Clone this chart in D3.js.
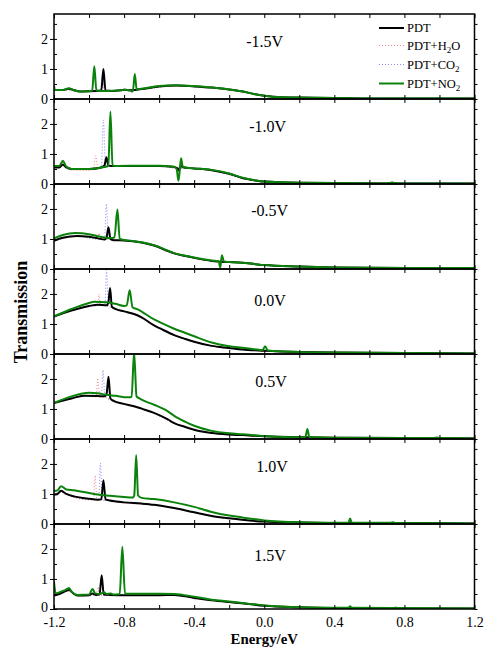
<!DOCTYPE html>
<html>
<head>
<meta charset="utf-8">
<script src="https://cdn.jsdelivr.net/npm/d3@7"></script>
<style>
body { margin: 0; background: #fff; }
svg { display: block; font-family: "Liberation Serif", "Times New Roman", serif; }
</style>
</head>
<body>
<svg width="484" height="647"></svg>
<script>

// tick labels / panel names
let energyTicks = [-1.2, -0.8, -0.4, 0.0, 0.4, 0.8, 1.2];
let transTicks = [0, 1, 2];
let biasLabels = ["-1.5V", "-1.0V", "-0.5V", "0.0V", "0.5V", "1.0V", "1.5V"];
let seriesNames = ["PDT", "PDT+H2O", "PDT+CO2", "PDT+NO2"];

// ---- -1.5V ----
let pdtM15 = [[-1.2,0.3],[-1.15,0.3],[-1.115,0.34],[-1.09,0.3],[-1.05,0.25],[-1.0,0.26],[-0.96,0.27],[-0.93,0.28],[-0.918,1.0],[-0.906,0.28],[-0.87,0.27],[-0.82,0.29],[-0.796,0.31],[-0.77,0.29],[-0.74,0.3],[-0.7,0.33],[-0.6,0.42],[-0.5,0.45],[-0.4,0.42],[-0.3,0.38],[-0.2,0.32],[-0.13,0.26],[-0.06,0.17],[0,0.11],[0.1,0.06],[0.2,0.05],[0.4,0.03],[0.6,0.02],[1.2,0.02]];
let h2oM15 = [[-1.2,0.28],[-1.1,0.3],[-1.0,0.24],[-0.93,0.27],[-0.92,0.6],[-0.91,0.27],[-0.8,0.28],[-0.7,0.32],[-0.5,0.44],[-0.3,0.37],[-0.13,0.25],[0,0.1],[0.2,0.05],[0.6,0.02],[1.2,0.02]];
let co2M15 = [[-1.2,0.29],[-1.1,0.31],[-1.0,0.25],[-0.935,0.27],[-0.925,0.8],[-0.915,0.27],[-0.8,0.29],[-0.7,0.33],[-0.5,0.45],[-0.3,0.38],[-0.13,0.26],[0,0.11],[0.2,0.05],[0.6,0.02],[1.2,0.02]];
let no2M15 = [[-1.2,0.45],[-1.195,0.3],[-1.15,0.3],[-1.115,0.36],[-1.09,0.3],[-1.05,0.25],[-1.0,0.26],[-0.982,0.28],[-0.97,1.09],[-0.958,0.28],[-0.93,0.27],[-0.9,0.27],[-0.82,0.29],[-0.796,0.31],[-0.765,0.28],[-0.75,0.25],[-0.739,0.83],[-0.728,0.32],[-0.7,0.34],[-0.6,0.43],[-0.5,0.46],[-0.4,0.43],[-0.3,0.38],[-0.2,0.32],[-0.13,0.26],[-0.06,0.17],[0,0.11],[0.1,0.06],[0.2,0.05],[0.4,0.03],[0.6,0.02],[1.2,0.02]];

// ---- -1.0V ----
let pdtM10 = [[-1.2,0.55],[-1.17,0.55],[-1.149,0.65],[-1.13,0.55],[-1.1,0.5],[-1.0,0.5],[-0.93,0.55],[-0.912,0.62],[-0.901,0.89],[-0.89,0.62],[-0.87,0.6],[-0.8,0.6],[-0.7,0.6],[-0.6,0.6],[-0.52,0.57],[-0.495,0.52],[-0.488,0.45],[-0.478,0.6],[-0.46,0.55],[-0.4,0.52],[-0.3,0.46],[-0.2,0.34],[-0.13,0.21],[-0.05,0.12],[0,0.08],[0.2,0.04],[0.4,0.03],[0.7,0.02],[0.73,0.04],[0.76,0.02],[1.2,0.02]];
let h2oM10 = [[-1.2,0.52],[-1.149,0.6],[-1.1,0.46],[-1.0,0.45],[-0.975,0.5],[-0.962,0.94],[-0.95,0.55],[-0.92,0.58],[-0.9,0.6],[-0.8,0.59],[-0.6,0.59],[-0.5,0.52],[-0.4,0.51],[-0.3,0.46],[-0.13,0.2],[0,0.08],[0.2,0.04],[1.2,0.02]];
let co2M10 = [[-1.2,0.53],[-1.149,0.62],[-1.1,0.48],[-1.0,0.48],[-0.93,0.55],[-0.918,2.13],[-0.906,0.6],[-0.8,0.6],[-0.6,0.6],[-0.5,0.53],[-0.4,0.52],[-0.3,0.46],[-0.13,0.2],[0,0.08],[0.2,0.04],[1.2,0.02]];
let no2M10 = [[-1.2,0.6],[-1.17,0.6],[-1.149,0.77],[-1.13,0.58],[-1.1,0.5],[-1.0,0.5],[-0.93,0.55],[-0.9,0.58],[-0.89,0.6],[-0.878,2.41],[-0.866,0.62],[-0.85,0.6],[-0.7,0.61],[-0.6,0.61],[-0.52,0.58],[-0.5,0.5],[-0.49,0.11],[-0.483,0.4],[-0.475,0.86],[-0.465,0.58],[-0.44,0.54],[-0.4,0.52],[-0.3,0.47],[-0.2,0.35],[-0.13,0.22],[-0.05,0.12],[0,0.08],[0.2,0.04],[0.4,0.03],[0.7,0.02],[0.73,0.04],[0.76,0.02],[1.2,0.02]];

// ---- -0.5V ----
let pdtM05 = [[-1.2,0.94],[-1.15,1.04],[-1.067,1.1],[-1.0,1.07],[-0.95,1.02],[-0.91,0.98],[-0.9,1.05],[-0.889,1.39],[-0.878,1.0],[-0.86,0.96],[-0.8,0.95],[-0.7,0.88],[-0.629,0.78],[-0.55,0.6],[-0.514,0.52],[-0.45,0.43],[-0.4,0.37],[-0.3,0.27],[-0.2,0.23],[-0.126,0.21],[-0.05,0.16],[0,0.13],[0.2,0.08],[0.4,0.05],[0.8,0.03],[1.2,0.03]];
let h2oM05 = [[-1.2,0.92],[-1.067,1.08],[-0.96,1.0],[-0.95,1.05],[-0.943,1.2],[-0.935,1.0],[-0.9,0.98],[-0.8,0.94],[-0.629,0.77],[-0.514,0.51],[-0.4,0.36],[-0.3,0.26],[-0.126,0.2],[0,0.12],[0.4,0.05],[1.2,0.03]];
let co2M05 = [[-1.2,0.93],[-1.067,1.09],[-0.95,1.0],[-0.912,1.0],[-0.901,2.17],[-0.89,1.0],[-0.8,0.95],[-0.629,0.78],[-0.514,0.52],[-0.4,0.37],[-0.3,0.27],[-0.126,0.21],[0,0.13],[0.4,0.05],[1.2,0.03]];
let no2M05 = [[-1.2,1.02],[-1.15,1.13],[-1.08,1.2],[-1.0,1.16],[-0.95,1.09],[-0.914,1.05],[-0.88,1.03],[-0.855,1.05],[-0.838,1.98],[-0.825,1.0],[-0.8,0.97],[-0.7,0.89],[-0.629,0.79],[-0.55,0.61],[-0.514,0.53],[-0.45,0.44],[-0.4,0.38],[-0.3,0.28],[-0.26,0.25],[-0.251,0.05],[-0.242,0.46],[-0.23,0.25],[-0.2,0.23],[-0.126,0.21],[-0.05,0.16],[0,0.13],[0.2,0.08],[0.4,0.05],[0.8,0.03],[1.2,0.03]];

// ---- 0.0V ----
let pdt00 = [[-1.2,1.25],[-1.1,1.45],[-1.0,1.6],[-0.95,1.64],[-0.9,1.62],[-0.89,1.7],[-0.88,2.2],[-0.87,1.58],[-0.85,1.5],[-0.8,1.42],[-0.743,1.33],[-0.7,1.22],[-0.629,0.95],[-0.594,0.85],[-0.514,0.63],[-0.45,0.5],[-0.4,0.41],[-0.3,0.27],[-0.2,0.2],[-0.126,0.15],[0,0.11],[0.2,0.07],[0.4,0.05],[0.8,0.03],[1.2,0.02]];
let h2o00 = [[-1.2,1.24],[-1.0,1.58],[-0.95,1.62],[-0.943,2.0],[-0.935,1.62],[-0.9,1.6],[-0.87,1.53],[-0.8,1.41],[-0.7,1.2],[-0.594,0.84],[-0.514,0.62],[-0.4,0.4],[-0.3,0.26],[-0.126,0.15],[0,0.1],[0.4,0.05],[1.2,0.02]];
let co200 = [[-1.2,1.25],[-1.0,1.59],[-0.91,1.62],[-0.9,2.79],[-0.89,1.62],[-0.85,1.51],[-0.8,1.42],[-0.7,1.21],[-0.594,0.85],[-0.514,0.63],[-0.4,0.41],[-0.3,0.27],[-0.126,0.16],[0,0.11],[0.4,0.05],[1.2,0.02]];
let no200 = [[-1.2,1.25],[-1.1,1.5],[-1.0,1.7],[-0.97,1.74],[-0.9,1.72],[-0.85,1.67],[-0.8,1.6],[-0.785,1.62],[-0.768,2.12],[-0.752,1.56],[-0.72,1.48],[-0.629,1.15],[-0.594,1.05],[-0.514,0.84],[-0.45,0.7],[-0.4,0.59],[-0.3,0.38],[-0.2,0.26],[-0.126,0.21],[-0.03,0.14],[-0.01,0.13],[0.005,0.26],[0.02,0.12],[0.2,0.07],[0.4,0.05],[0.8,0.03],[1.2,0.02]];

// ---- 0.5V ----
let pdtP05 = [[-1.2,1.2],[-1.1,1.35],[-1.03,1.44],[-0.95,1.43],[-0.914,1.42],[-0.9,1.5],[-0.889,2.07],[-0.878,1.35],[-0.86,1.27],[-0.8,1.17],[-0.743,1.09],[-0.7,1.01],[-0.629,0.87],[-0.55,0.65],[-0.514,0.53],[-0.45,0.4],[-0.4,0.31],[-0.3,0.2],[-0.2,0.15],[-0.126,0.13],[0,0.09],[0.2,0.06],[0.4,0.04],[0.8,0.03],[1.2,0.02]];
let h2oP05 = [[-1.2,1.18],[-1.03,1.42],[-0.96,1.4],[-0.95,2.03],[-0.94,1.4],[-0.9,1.38],[-0.86,1.25],[-0.743,1.07],[-0.629,0.85],[-0.514,0.52],[-0.4,0.3],[-0.3,0.19],[-0.126,0.12],[0,0.09],[0.4,0.04],[1.2,0.02]];
let co2P05 = [[-1.2,1.19],[-1.03,1.43],[-0.93,1.42],[-0.92,2.29],[-0.91,1.42],[-0.88,1.3],[-0.743,1.08],[-0.629,0.86],[-0.514,0.53],[-0.4,0.31],[-0.3,0.2],[-0.126,0.13],[0,0.09],[0.4,0.04],[1.2,0.02]];
let no2P05 = [[-1.2,1.2],[-1.1,1.42],[-1.0,1.54],[-0.95,1.52],[-0.9,1.47],[-0.85,1.44],[-0.78,1.39],[-0.757,1.4],[-0.743,2.9],[-0.729,1.42],[-0.715,1.36],[-0.7,1.31],[-0.629,1.14],[-0.55,0.92],[-0.514,0.77],[-0.45,0.57],[-0.4,0.44],[-0.3,0.27],[-0.2,0.19],[-0.126,0.16],[0,0.1],[0.2,0.06],[0.235,0.07],[0.246,0.33],[0.257,0.07],[0.4,0.04],[0.8,0.03],[0.97,0.03],[0.985,0.05],[1.0,0.03],[1.2,0.02]];

// ---- 1.0V ----
let pdtP10 = [[-1.2,0.98],[-1.18,1.0],[-1.16,1.11],[-1.13,1.0],[-1.086,0.92],[-1.0,0.84],[-0.95,0.81],[-0.93,0.82],[-0.918,1.46],[-0.906,0.82],[-0.88,0.78],[-0.8,0.72],[-0.7,0.68],[-0.629,0.64],[-0.514,0.53],[-0.4,0.39],[-0.3,0.27],[-0.2,0.19],[-0.126,0.14],[0,0.08],[0.2,0.05],[0.49,0.03],[0.73,0.03],[1.2,0.02]];
let h2oP10 = [[-1.2,0.96],[-1.16,1.05],[-1.086,0.88],[-1.0,0.8],[-0.975,0.8],[-0.965,1.61],[-0.955,0.8],[-0.9,0.78],[-0.8,0.7],[-0.629,0.62],[-0.514,0.52],[-0.4,0.38],[-0.3,0.26],[-0.126,0.13],[0,0.08],[0.4,0.03],[1.2,0.02]];
let co2P10 = [[-1.2,0.97],[-1.16,1.08],[-1.086,0.9],[-1.0,0.82],[-0.945,0.8],[-0.935,2.03],[-0.925,0.8],[-0.88,0.77],[-0.8,0.71],[-0.629,0.63],[-0.514,0.52],[-0.4,0.38],[-0.3,0.26],[-0.126,0.13],[0,0.08],[0.4,0.03],[1.2,0.02]];
let no2P10 = [[-1.2,1.1],[-1.18,1.12],[-1.16,1.26],[-1.13,1.15],[-1.086,1.12],[-1.0,1.03],[-0.95,0.98],[-0.88,0.94],[-0.8,0.9],[-0.75,0.88],[-0.742,0.95],[-0.731,2.29],[-0.72,0.95],[-0.7,0.87],[-0.629,0.83],[-0.514,0.72],[-0.4,0.57],[-0.3,0.4],[-0.2,0.28],[-0.126,0.22],[0,0.12],[0.2,0.06],[0.48,0.04],[0.49,0.18],[0.5,0.04],[0.72,0.04],[0.735,0.06],[0.75,0.03],[1.2,0.02]];

// ---- 1.5V ----
let pdtP15 = [[-1.2,0.45],[-1.17,0.5],[-1.14,0.58],[-1.114,0.63],[-1.09,0.52],[-1.067,0.45],[-1.0,0.46],[-0.98,0.52],[-0.96,0.47],[-0.94,0.48],[-0.928,1.12],[-0.916,0.48],[-0.88,0.47],[-0.8,0.46],[-0.7,0.46],[-0.6,0.46],[-0.514,0.47],[-0.4,0.37],[-0.3,0.29],[-0.2,0.23],[-0.126,0.19],[0,0.11],[0.2,0.06],[0.49,0.03],[0.75,0.02],[1.2,0.02]];
let h2oP15 = [[-1.2,0.42],[-1.114,0.6],[-1.067,0.43],[-0.96,0.45],[-0.95,0.72],[-0.94,0.45],[-0.88,0.46],[-0.7,0.45],[-0.514,0.46],[-0.4,0.36],[-0.126,0.18],[0,0.1],[0.4,0.03],[1.2,0.02]];
let co2P15 = [[-1.2,0.43],[-1.114,0.62],[-1.067,0.44],[-0.95,0.46],[-0.94,0.8],[-0.93,0.47],[-0.88,0.46],[-0.7,0.46],[-0.514,0.46],[-0.4,0.36],[-0.126,0.18],[0,0.1],[0.4,0.03],[1.2,0.02]];
let no2P15 = [[-1.2,0.92],[-1.19,0.52],[-1.16,0.58],[-1.14,0.62],[-1.114,0.7],[-1.1,0.58],[-1.067,0.47],[-1.0,0.48],[-0.98,0.67],[-0.965,0.52],[-0.94,0.5],[-0.914,0.56],[-0.9,0.5],[-0.876,0.52],[-0.86,0.48],[-0.825,0.5],[-0.81,2.07],[-0.795,0.52],[-0.7,0.51],[-0.6,0.51],[-0.514,0.5],[-0.4,0.41],[-0.3,0.31],[-0.2,0.25],[-0.126,0.2],[0,0.12],[0.2,0.06],[0.48,0.04],[0.49,0.09],[0.5,0.04],[0.74,0.03],[0.75,0.05],[0.76,0.03],[1.2,0.02]];

let panels = [
  [h2oM15, co2M15, pdtM15, no2M15],
  [h2oM10, co2M10, pdtM10, no2M10],
  [h2oM05, co2M05, pdtM05, no2M05],
  [h2o00, co200, pdt00, no200],
  [h2oP05, co2P05, pdtP05, no2P05],
  [h2oP10, co2P10, pdtP10, no2P10],
  [h2oP15, co2P15, pdtP15, no2P15]
];

// layout (not data): where the bias label sits in each panel
let labelX = [-0.103, -0.086, -0.074, -0.057, -0.051, -0.046, -0.057];
let labelDy = [33, 33, 32, 37, 33, 33, 37];

let svg = d3.select("svg"),
    margin = {top: 14, left: 54},
    width = 420.5,
    panelH = 85;

let x = d3.scaleLinear().domain([-1.2, 1.2]).range([0, width]);
let y = d3.scaleLinear().domain([0, 2.83]).range([panelH, 0]);

// order inside each panel: H2O, CO2, PDT, NO2
let styles = [
  {stroke: "#f08a8a", width: 1, dash: "1,2"},
  {stroke: "#8a8af0", width: 1, dash: "1,2"},
  {stroke: "#000000", width: 2, dash: null},
  {stroke: "#0b820b", width: 2, dash: null}
];

let line = d3.line()
    .x(function(d) { return x(d[0]); })
    .y(function(d) { return y(d[1]); })
    .curve(d3.curveMonotoneX);

svg.append("defs").append("clipPath")
    .attr("id", "clip")
  .append("rect")
    .attr("width", width)
    .attr("height", panelH);

function styleAxis(g, size) {
  g.attr("font-family", "Liberation Serif, Times New Roman, serif").attr("font-size", size);
  g.select(".domain").remove();
  g.selectAll("line").attr("stroke", "#000").attr("stroke-width", 1);
}

panels.forEach(function(series, i) {
  let last = i === panels.length - 1;
  let panel = svg.append("g")
      .attr("transform", "translate(" + margin.left + "," + (margin.top + i * panelH) + ")");

  let plot = panel.append("g").attr("clip-path", "url(#clip)");
  series.forEach(function(pts, k) {
    plot.append("path")
        .datum(pts)
        .attr("fill", "none")
        .attr("stroke", styles[k].stroke)
        .attr("stroke-width", styles[k].width)
        .attr("stroke-dasharray", styles[k].dash)
        .attr("stroke-linejoin", "round")
        .attr("d", line);
  });

  // inward minor ticks top / bottom every 0.2
  let minorX = d3.range(-12, 13, 2).map(function(v) { return v / 10; });
  panel.append("g")
      .call(d3.axisBottom(x).tickValues(minorX).tickSize(4).tickFormat(""))
      .call(styleAxis, 14);
  panel.append("g")
      .attr("transform", "translate(0," + panelH + ")")
      .call(d3.axisTop(x).tickValues(minorX).tickSize(4).tickFormat(""))
      .call(styleAxis, 14);

  // y ticks: inward small every 0.5, outward labelled at 0,1,2
  let halfY = [0, 0.5, 1, 1.5, 2, 2.5];
  panel.append("g")
      .call(d3.axisLeft(y).tickValues(halfY).tickSize(-3).tickFormat(""))
      .call(styleAxis, 14);
  let yLab = panel.append("g")
      .call(d3.axisLeft(y).tickValues(transTicks).tickSize(4).tickPadding(2)
        .tickFormat(function(d) { return String(d); }))
      .call(styleAxis, 14);
  if (last) {
    // keep the bottom "0" clear of the energy labels
    yLab.selectAll("text").filter(function(d) { return d === 0; }).attr("dy", "0.15em");
  }
  panel.append("g")
      .attr("transform", "translate(" + width + ",0)")
      .call(d3.axisRight(y).tickValues(halfY).tickSize(3).tickFormat(""))
      .call(styleAxis, 14);

  panel.append("rect")
      .attr("width", width)
      .attr("height", panelH)
      .attr("fill", "none")
      .attr("stroke", "#000")
      .attr("stroke-width", 1.5);

  panel.append("text")
      .attr("x", x(labelX[i]))
      .attr("y", labelDy[i])
      .attr("font-size", 16)
      .text(biasLabels[i]);

  if (last) {
    panel.append("g")
        .attr("transform", "translate(0," + panelH + ")")
        .call(d3.axisBottom(x).tickValues(energyTicks).tickSize(0).tickPadding(8.4)
          .tickFormat(function(d) { return d.toFixed(1); }))
        .call(styleAxis, 14);
  }
});

// legend in the top panel
let legend = svg.append("g").attr("font-size", 12.5);
let legendRows = [28, 45.5, 64.5, 83.5];
let legendStyle = [styles[2], styles[0], styles[1], styles[3]];
seriesNames.forEach(function(name, k) {
  let row = legend.append("g").attr("transform", "translate(379," + legendRows[k] + ")");
  row.append("line")
      .attr("x1", 0).attr("x2", 25)
      .attr("stroke", legendStyle[k].stroke)
      .attr("stroke-width", legendStyle[k].width)
      .attr("stroke-dasharray", legendStyle[k].dash);
  let t = row.append("text").attr("x", 28).attr("y", 4.3);
  let m = name.match(/^(.*?)(2)(O)?$/);
  if (m) {
    t.append("tspan").text(m[1]);
    t.append("tspan").attr("dy", 3).attr("font-size", 9).text(m[2]);
    if (m[3]) t.append("tspan").attr("dy", -3).text(m[3]);
  } else {
    t.text(name);
  }
});

// axis titles
svg.append("text")
    .attr("transform", "rotate(-90)")
    .attr("x", -312)
    .attr("y", 27)
    .attr("text-anchor", "middle")
    .attr("font-weight", "bold")
    .attr("font-size", 18)
    .text("Transmission");

svg.append("text")
    .attr("x", margin.left + width / 2)
    .attr("y", 643.7)
    .attr("text-anchor", "middle")
    .attr("font-weight", "bold")
    .attr("font-size", 14.8)
    .text("Energy/eV");

</script>
</body>
</html>
